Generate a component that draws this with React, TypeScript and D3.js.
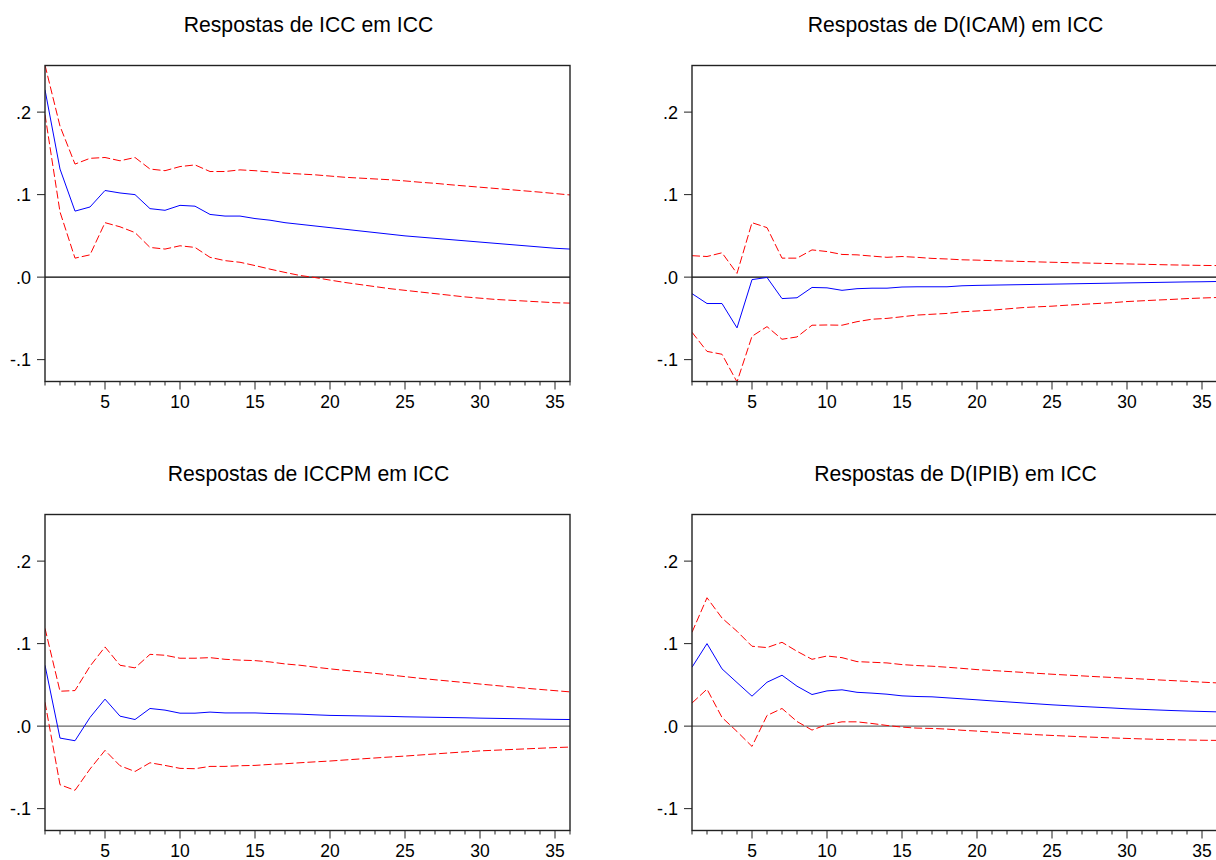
import React from "react";
import * as d3 from "d3";

const periods = d3.range(1, 37);
const yTicks = [0.2, 0.1, 0.0, -0.1];
const yTickLabels = [".2", ".1", ".0", "-.1"];
const xMajorTicks = [5, 10, 15, 20, 25, 30, 35];

const titles = [
  "Respostas de ICC em ICC",
  "Respostas de D(ICAM) em ICC",
  "Respostas de ICCPM em ICC",
  "Respostas de D(IPIB) em ICC",
];

const p1Resp = [0.227,0.131,0.080,0.085,0.105,0.102,0.100,0.083,0.081,0.087,0.086,0.076,0.074,0.074,0.071,0.069,0.066,0.064,0.062,0.060,0.058,0.056,0.054,0.052,0.050,0.0485,0.047,0.0455,0.044,0.0425,0.041,0.0395,0.038,0.0365,0.035,0.034];
const p1Upper = [0.257,0.183,0.137,0.144,0.145,0.141,0.145,0.131,0.129,0.134,0.136,0.128,0.128,0.130,0.129,0.1275,0.126,0.125,0.124,0.1225,0.121,0.120,0.119,0.118,0.1166,0.115,0.1137,0.112,0.1105,0.109,0.1075,0.106,0.1045,0.103,0.1013,0.0996];
const p1Lower = [0.197,0.079,0.023,0.027,0.066,0.061,0.054,0.036,0.034,0.038,0.036,0.024,0.020,0.018,0.014,0.0097,0.0057,0.002,-0.0005,-0.0036,-0.0065,-0.009,-0.0115,-0.014,-0.016,-0.018,-0.020,-0.022,-0.024,-0.0255,-0.027,-0.028,-0.029,-0.030,-0.031,-0.0315];

const p2Resp = [-0.020,-0.032,-0.032,-0.0615,-0.003,-0.0004,-0.026,-0.025,-0.0125,-0.013,-0.016,-0.014,-0.0134,-0.0134,-0.012,-0.0117,-0.0117,-0.0117,-0.0105,-0.0100,-0.0097,-0.0094,-0.0091,-0.0088,-0.0085,-0.0082,-0.0079,-0.0076,-0.0073,-0.007,-0.0067,-0.0064,-0.0061,-0.0058,-0.0056,-0.0053];
const p2Upper = [0.026,0.025,0.0295,0.0045,0.066,0.060,0.023,0.023,0.033,0.031,0.0275,0.027,0.0255,0.024,0.025,0.024,0.0227,0.022,0.021,0.0206,0.020,0.0195,0.019,0.0185,0.018,0.0176,0.0172,0.0168,0.0164,0.016,0.0156,0.0152,0.0148,0.0145,0.0142,0.014];
const p2Lower = [-0.0668,-0.090,-0.0935,-0.127,-0.0717,-0.060,-0.0753,-0.0725,-0.0583,-0.058,-0.0583,-0.054,-0.051,-0.050,-0.048,-0.046,-0.045,-0.044,-0.042,-0.041,-0.040,-0.0385,-0.037,-0.036,-0.0352,-0.034,-0.033,-0.032,-0.031,-0.0296,-0.0287,-0.0278,-0.027,-0.026,-0.0253,-0.0247];

const p3Resp = [0.0738,-0.0145,-0.0177,0.0105,0.0327,0.0121,0.008,0.0214,0.0194,0.0157,0.0157,0.017,0.016,0.016,0.016,0.0153,0.0149,0.0145,0.0137,0.013,0.0127,0.0124,0.0121,0.0118,0.0113,0.011,0.0107,0.0104,0.0101,0.0097,0.0094,0.0091,0.0088,0.0085,0.0082,0.008];
const p3Upper = [0.1185,0.0423,0.0431,0.0726,0.096,0.0738,0.0706,0.087,0.0859,0.0823,0.0823,0.083,0.081,0.080,0.0794,0.0778,0.0754,0.0738,0.0715,0.0694,0.0676,0.0658,0.064,0.062,0.060,0.058,0.0562,0.0545,0.0528,0.051,0.0493,0.0476,0.046,0.0445,0.043,0.0415];
const p3Lower = [0.029,-0.071,-0.0778,-0.052,-0.0294,-0.048,-0.055,-0.0444,-0.0476,-0.0512,-0.0516,-0.0488,-0.0488,-0.048,-0.0476,-0.0464,-0.0456,-0.0444,-0.0433,-0.0423,-0.041,-0.0398,-0.0386,-0.0374,-0.0363,-0.035,-0.0337,-0.0324,-0.0312,-0.030,-0.0292,-0.0284,-0.0276,-0.0268,-0.026,-0.0254];

const p4Resp = [0.0714,0.100,0.0694,0.0528,0.0363,0.0532,0.0617,0.0484,0.0383,0.0427,0.044,0.041,0.040,0.0387,0.0367,0.0359,0.0355,0.0343,0.0331,0.0319,0.0306,0.0294,0.0282,0.027,0.0258,0.0248,0.0238,0.0229,0.022,0.021,0.0203,0.0196,0.0189,0.0183,0.0178,0.0173];
const p4Upper = [0.1137,0.1556,0.131,0.115,0.0968,0.0952,0.1016,0.0907,0.081,0.085,0.083,0.0782,0.0774,0.0766,0.0746,0.0734,0.0726,0.0714,0.070,0.0685,0.0674,0.0663,0.0652,0.064,0.0629,0.0619,0.0609,0.0599,0.059,0.058,0.0571,0.0561,0.0552,0.0543,0.0533,0.0524];
const p4Lower = [0.028,0.0448,0.0105,-0.0065,-0.0246,0.0129,0.0214,0.0056,-0.0048,0.002,0.0052,0.0052,0.0032,0.0008,-0.0012,-0.0024,-0.0028,-0.0036,-0.005,-0.006,-0.0072,-0.0083,-0.0094,-0.0104,-0.0113,-0.0121,-0.0129,-0.0136,-0.0143,-0.0149,-0.0155,-0.016,-0.0164,-0.0168,-0.0171,-0.0173];

const panelsData = [
  { resp: p1Resp, upper: p1Upper, lower: p1Lower },
  { resp: p2Resp, upper: p2Upper, lower: p2Lower },
  { resp: p3Resp, upper: p3Upper, lower: p3Lower },
  { resp: p4Resp, upper: p4Upper, lower: p4Lower },
];

const FONT = "'Liberation Sans', Arial, sans-serif";

function Panel({ idx, left, right, top, bottom, zeroColor }) {
  const d = panelsData[idx];
  const x = d3.scaleLinear().domain([1, 36]).range([left, right]);
  const y = d3.scaleLinear().domain([-0.1265, 0.2565]).range([bottom, top]);
  const line = d3
    .line<number>()
    .x((_, i) => x(periods[i]))
    .y((v) => y(v));
  const clipId = `clip${idx}`;
  return (
    <g>
      <defs>
        <clipPath id={clipId}>
          <rect x={left} y={top} width={right - left} height={bottom - top} />
        </clipPath>
      </defs>
      <text
        x={(left + right) / 2 + 1}
        y={top - 33.5}
        textAnchor="middle"
        fontFamily={FONT}
        fontSize={21.2}
        fill="#000"
      >
        {titles[idx]}
      </text>
      <line x1={left} x2={right} y1={y(0)} y2={y(0)} stroke={zeroColor} strokeWidth={1.2} />
      <g clipPath={`url(#${clipId})`}>
        <path d={line(d.upper) || ""} fill="none" stroke="#ff0000" strokeWidth={1} strokeDasharray="8,3" />
        <path d={line(d.lower) || ""} fill="none" stroke="#ff0000" strokeWidth={1} strokeDasharray="8,3" />
        <path d={line(d.resp) || ""} fill="none" stroke="#0000ff" strokeWidth={1} />
      </g>
      <rect x={left} y={top} width={right - left} height={bottom - top} fill="none" stroke="#222" strokeWidth={1.4} />
      {yTicks.map((t, i) => (
        <g key={"y" + i}>
          <line x1={left - 8} x2={left} y1={y(t)} y2={y(t)} stroke="#222" strokeWidth={1} />
          <text
            x={left - 14}
            y={y(t) + 6.5}
            textAnchor="end"
            fontFamily={FONT}
            fontSize={18}
            fill="#000"
          >
            {yTickLabels[i]}
          </text>
        </g>
      ))}
      {periods.map((p) => (
        <line
          key={"xm" + p}
          x1={x(p)}
          x2={x(p)}
          y1={bottom}
          y2={bottom + (p % 5 === 0 ? 8 : 4)}
          stroke="#222"
          strokeWidth={1}
        />
      ))}
      {xMajorTicks.map((t) => (
        <text
          key={"xl" + t}
          x={x(t)}
          y={bottom + 26.8}
          textAnchor="middle"
          fontFamily={FONT}
          fontSize={17.5}
          fill="#000"
        >
          {t}
        </text>
      ))}
    </g>
  );
}

export default function App() {
  const rows = [
    { top: 65.5, bottom: 381.5, zero: "#000" },
    { top: 514.5, bottom: 830.5, zero: "#666" },
  ];
  const cols = [
    { left: 45, right: 570 },
    { left: 692, right: 1217 },
  ];
  return (
    <svg
      width={1216}
      height={860}
      style={{ position: "absolute", left: 0, top: 0, background: "#fff" }}
    >
      <rect x={0} y={0} width={1216} height={860} fill="#fff" />
      {rows.map((r, ri) =>
        cols.map((c, ci) => (
          <Panel
            key={ri * 2 + ci}
            idx={ri * 2 + ci}
            left={c.left}
            right={c.right}
            top={r.top}
            bottom={r.bottom}
            zeroColor={r.zero}
          />
        ))
      )}
    </svg>
  );
}
